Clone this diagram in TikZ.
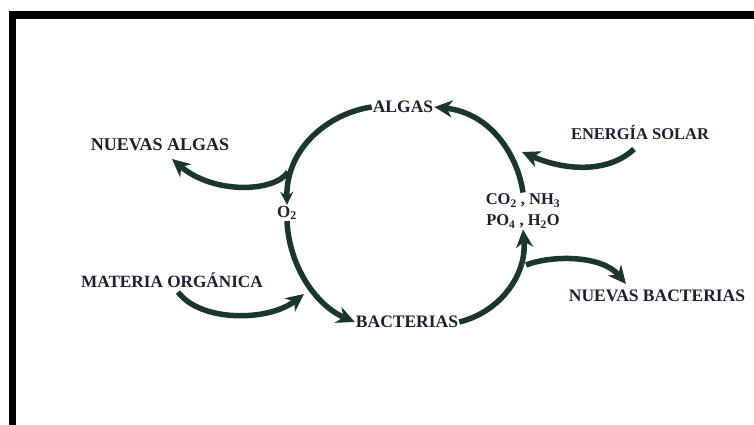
\documentclass[tikz,border=0pt]{standalone}
\usepackage{fontspec}
\setmainfont{Liberation Serif}
\usetikzlibrary{arrows.meta}
\definecolor{arrowc}{RGB}{26,54,45}
\definecolor{textc}{RGB}{30,30,48}
\tikzset{
  flow/.style={draw=arrowc, line width=5.5pt, -{Stealth[length=18pt,width=17pt]}},
  flowsmall/.style={draw=arrowc, line width=5.5pt, -{Stealth[length=13pt,width=13pt]}},
  lbl/.style={font=\bfseries, text=textc, inner sep=1pt},
  chemlbl/.style={font=\bfseries\fontsize{16.5}{21}\selectfont, text=textc, inner sep=1pt, align=center}
}
\newcommand{\fsz}[1]{\fontsize{#1}{#1}\selectfont}
\begin{document}
\begin{tikzpicture}[x=1pt,y=1pt]
\useasboundingbox (0,0) rectangle (754,425);
\fill[white] (0,0) rectangle (754,425);
% frame (top and left bars)
\fill[black] (9,406) rectangle (754,414);
\fill[black] (9,0) rectangle (16,414);

% labels
\node[lbl] (algas) at (403,318) {\fsz{17.5}ALGAS};
\node[lbl] (nalgas) at (160,280) {\fsz{18}NUEVAS ALGAS};
\node[lbl] (energia) at (640,292) {\fsz{16.5}ENERGÍA SOLAR};
\node[chemlbl] (chem) at (523,214) {CO\textsubscript{2} , NH\textsubscript{3}\\PO\textsubscript{4} , H\textsubscript{2}O};
\node[lbl] (o2) at (287,212) {\fsz{17}O\textsubscript{2}};
\node[lbl] (materia) at (172,145) {\fsz{17.2}MATERIA ORGÁNICA};
\node[lbl] (bact) at (407,103) {\fsz{17.5}BACTERIAS};
\node[lbl] (nbact) at (657,129) {\fsz{17.5}NUEVAS BACTERIAS};

% junctions and free ends
\coordinate (j1) at (288,253);
\coordinate (tipA) at (172,266);
\coordinate (startM) at (178,133);
\coordinate (j2) at (304,131);
\coordinate (j3) at (526,160);
\coordinate (tipB) at (626,141);
\coordinate (startE) at (634,276);
\coordinate (j4) at (522,273);

% main cycle
\draw[flowsmall] (algas.west) .. controls (330,312) and (286,278) .. (o2.north);
\draw[flow] (o2.south) .. controls (289,160) and (315,120) .. (bact.west);
\draw[flow] (bact.east) .. controls (500,113) and (527,150) .. (chem.south);
\draw[flow] (chem.north) .. controls (518,268) and (492,312) .. (algas.east);

% branches
\draw[flow] (j1) .. controls (275,233) and (214,230) .. (tipA);
\draw[flow] (startM) .. controls (200,103) and (268,103) .. (j2);
\draw[flow] (j3) .. controls (552,170) and (602,170) .. (tipB);
\draw[flow] (startE) .. controls (610,253) and (568,253) .. (j4);
\end{tikzpicture}
\end{document}
